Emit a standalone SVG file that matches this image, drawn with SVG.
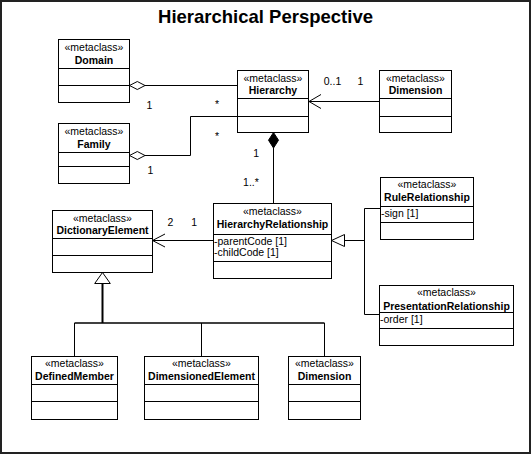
<svg xmlns="http://www.w3.org/2000/svg" width="532" height="456" viewBox="0 0 532 456">
<style>
text{font-family:"Liberation Sans",Arial,sans-serif;font-size:10.5px;fill:#000}
.c{text-anchor:middle}
.b{font-weight:bold}
.box{fill:#fff;stroke:#000;stroke-width:1}
.dv{stroke:#000;stroke-width:1}
.ln{fill:none;stroke:#000;stroke-width:1}
.title{font-size:18.5px;font-weight:bold;text-anchor:middle}
</style>
<rect x="0" y="0" width="532" height="456" fill="#fff"/>
<rect x="1" y="1" width="529" height="452" fill="none" stroke="#222" stroke-width="2"/>
<text class="title" x="265.5" y="23">Hierarchical Perspective</text>

<g id="connectors">
  <!-- Domain aggregation -->
  <path class="ln" d="M145 85.5 H237.5"/>
  <path d="M129.5 85.5 L137.3 81.5 L145 85.5 L137.3 89.5 Z" fill="#fff" stroke="#000"/>
  <!-- Family aggregation -->
  <path class="ln" d="M145 155.5 H190.5 V116.5 H237.5"/>
  <path d="M129.5 155.5 L137.3 151.5 L145 155.5 L137.3 159.5 Z" fill="#fff" stroke="#000"/>
  <!-- Dimension to Hierarchy -->
  <path class="ln" d="M379.5 101.5 H309"/>
  <path class="ln" d="M321 94.5 L309 101.5 L321 108.5"/>
  <!-- composition -->
  <path class="ln" d="M273.5 148 V203.5"/>
  <path d="M273.5 132.5 L278.5 140.2 L273.5 148 L268.5 140.2 Z" fill="#000" stroke="#000"/>
  <!-- HR to DictionaryElement -->
  <path class="ln" d="M213.5 240.5 H152.5"/>
  <path class="ln" d="M165 234 L152.5 240.5 L165 247"/>
  <!-- generalization to HR -->
  <path class="ln" d="M344.5 240.5 H364.5 M364.5 208.5 V314.5 M364.5 208.5 H380.5 M364.5 314.5 H379.5"/>
  <path d="M331.5 240.5 L344.5 234.5 L344.5 246.5 Z" fill="#fff" stroke="#000"/>
  <!-- generalization to DictionaryElement -->
  <path d="M102.5 283.5 V323" fill="none" stroke="#000" stroke-width="2"/>
  <path d="M74.5 323 H324.5" fill="none" stroke="#000" stroke-width="1.6"/>
  <path class="ln" d="M74.5 323 V356.5 M201.5 323 V356.5 M324.5 323 V356.5"/>
  <path d="M102.5 272.5 L110.3 283.5 L94.7 283.5 Z" fill="#fff" stroke="#000"/>
  <!-- multiplicities -->
  <text class="c" x="149.3" y="109">1</text>
  <text class="c" x="217" y="108">*</text>
  <text class="c" x="217" y="140">*</text>
  <text class="c" x="150.3" y="174.2">1</text>
  <text class="c" x="332.5" y="85.2">0..1</text>
  <text class="c" x="360.4" y="85.2">1</text>
  <text class="c" x="256.2" y="156.5">1</text>
  <text class="c" x="251" y="186">1..*</text>
  <text class="c" x="170.3" y="225.7">2</text>
  <text class="c" x="194.1" y="225.7">1</text>
</g>

<g id="domain">
  <rect class="box" x="58.5" y="39.5" width="71" height="63"/>
  <path class="dv" d="M58.5 68.5 H129.5 M58.5 85.5 H129.5"/>
  <text class="c" x="94" y="51.3">«metaclass»</text>
  <text class="c b" x="94" y="63.8">Domain</text>
</g>
<g id="hierarchy">
  <rect class="box" x="237.5" y="70.5" width="71" height="62"/>
  <path class="dv" d="M237.5 98.5 H308.5 M237.5 116.5 H308.5"/>
  <text class="c" x="273" y="81.8">«metaclass»</text>
  <text class="c b" x="273" y="94.3">Hierarchy</text>
</g>
<g id="dimension-top">
  <rect class="box" x="379.5" y="70.5" width="72" height="62"/>
  <path class="dv" d="M379.5 98.5 H451.5 M379.5 116.5 H451.5"/>
  <text class="c" x="415.5" y="81.8">«metaclass»</text>
  <text class="c b" x="415.5" y="94.3">Dimension</text>
</g>
<g id="family">
  <rect class="box" x="58.5" y="123.5" width="71" height="60"/>
  <path class="dv" d="M58.5 152.5 H129.5 M58.5 166.5 H129.5"/>
  <text class="c" x="94" y="135.3">«metaclass»</text>
  <text class="c b" x="94" y="147.8">Family</text>
</g>
<g id="hierarchy-relationship">
  <rect class="box" x="213.5" y="203.5" width="118" height="75"/>
  <path class="dv" d="M213.5 234.5 H331.5 M213.5 261.5 H331.5"/>
  <text class="c" x="272.5" y="214.8">«metaclass»</text>
  <text class="c b" x="272.5" y="228">HierarchyRelationship</text>
  <text x="214" y="244.7">-parentCode [1]</text>
  <text x="214" y="256.3">-childCode [1]</text>
</g>
<g id="dictionary-element">
  <rect class="box" x="52.5" y="210.5" width="100" height="62"/>
  <path class="dv" d="M52.5 238.5 H152.5 M52.5 255.5 H152.5"/>
  <text class="c" x="102.5" y="222">«metaclass»</text>
  <text class="c b" x="102.5" y="234.3">DictionaryElement</text>
</g>
<g id="rule-relationship">
  <rect class="box" x="380.5" y="177.5" width="93" height="62"/>
  <path class="dv" d="M380.5 206.5 H473.5 M380.5 222.5 H473.5"/>
  <text class="c" x="427" y="188">«metaclass»</text>
  <text class="c b" x="427" y="201.3">RuleRelationship</text>
  <text x="381" y="217.3">-sign [1]</text>
</g>
<g id="presentation-relationship">
  <rect class="box" x="379.5" y="285.5" width="134" height="60"/>
  <path class="dv" d="M379.5 312.5 H513.5 M379.5 328.5 H513.5"/>
  <text class="c" x="446.5" y="296.3">«metaclass»</text>
  <text class="c b" x="446.5" y="309.8">PresentationRelationship</text>
  <text x="380" y="323.1">-order [1]</text>
</g>
<g id="defined-member">
  <rect class="box" x="31.5" y="356.5" width="86" height="63"/>
  <path class="dv" d="M31.5 384.5 H117.5 M31.5 401.5 H117.5"/>
  <text class="c" x="74.5" y="366.6">«metaclass»</text>
  <text class="c b" x="74.5" y="380.1">DefinedMember</text>
</g>
<g id="dimensioned-element">
  <rect class="box" x="144.5" y="356.5" width="114" height="63"/>
  <path class="dv" d="M144.5 384.5 H258.5 M144.5 401.5 H258.5"/>
  <text class="c" x="201.5" y="366.6">«metaclass»</text>
  <text class="c b" x="201.5" y="380.1">DimensionedElement</text>
</g>
<g id="dimension-bottom">
  <rect class="box" x="288.5" y="356.5" width="72" height="63"/>
  <path class="dv" d="M288.5 384.5 H360.5 M288.5 401.5 H360.5"/>
  <text class="c" x="324.5" y="366.6">«metaclass»</text>
  <text class="c b" x="324.5" y="380.1">Dimension</text>
</g>
</svg>
